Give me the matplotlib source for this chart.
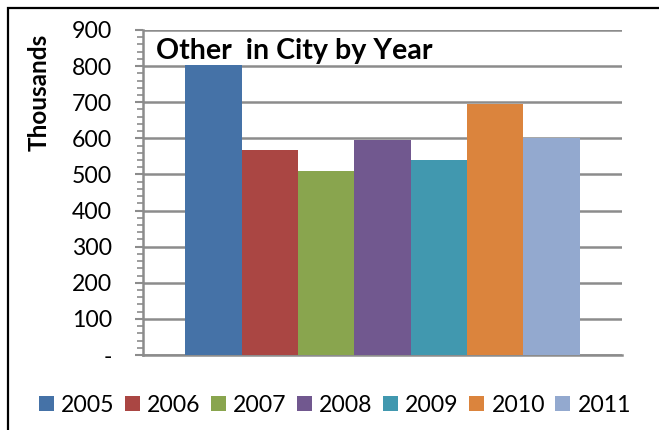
import matplotlib
matplotlib.use("Agg")
import matplotlib.pyplot as plt
from matplotlib.patches import Rectangle
from matplotlib.ticker import FuncFormatter, MultipleLocator
import numpy as np

plt.rcParams["font.family"] = ["Lato", "DejaVu Sans"]

# data (thousands)
years = ["2005", "2006", "2007", "2008", "2009", "2010", "2011"]
values = [803, 568, 510, 596, 541, 696, 600]
colors = ["#4572A7", "#AA4643", "#89A54E", "#71588F", "#4198AF", "#DB843D", "#93A9CF"]

W, H = 659, 430
fig = plt.figure(figsize=(W / 100, H / 100), dpi=100)
ax = fig.add_axes([143 / W, 1 - 355 / H, 479 / W, 325 / H])

x = np.arange(len(years))
bars = ax.bar(x, values, width=1.0, color=colors, label=years, zorder=3)

ax.set_xlim(-1.25, len(years) - 1 + 1.25)
ax.set_ylim(0, 900)
ax.yaxis.set_major_locator(MultipleLocator(100))
ax.yaxis.set_minor_locator(MultipleLocator(20))
ax.yaxis.set_major_formatter(FuncFormatter(lambda v, p: "-" if v == 0 else f"{v:.0f}"))
ax.set_xticks([])

grid_col = "#8C8C8C"
ax.grid(axis="y", color=grid_col, linewidth=1.8, zorder=0)
for side in ["top", "right"]:
    ax.spines[side].set_visible(False)
ax.spines["left"].set_color(grid_col)
ax.spines["left"].set_linewidth(1.8)
ax.spines["bottom"].set_color(grid_col)
ax.spines["bottom"].set_linewidth(1.8)

ax.tick_params(axis="y", which="major", length=5.5, width=1.5, color=grid_col,
               labelsize=16.6, pad=17)
ax.tick_params(axis="y", which="minor", length=4, width=1.2, color=grid_col)

# title sits inside the plot area
fig.text(156 / W, 1 - 59 / H, "Other  in City by Year", fontsize=20.6,
         fontweight="bold", ha="left", va="baseline")
fig.text(39 / W, 1 - 92 / H, "Thousands", fontsize=17.5, fontweight="bold",
         rotation=90, ha="center", va="center")

fig.legend(handles=list(bars), labels=years, loc="center",
           bbox_to_anchor=(335 / W, 1 - 405 / H), ncol=len(years), frameon=False,
           fontsize=16.6, handlelength=0.66, handleheight=0.66,
           handletextpad=0.3, columnspacing=0.45, borderpad=0, borderaxespad=0)

# outer chart border (only top/left fall inside the image)
fig.patches.append(Rectangle((8 / W, -0.1), 1.2, 1.1 - 8 / H + 0.001, fill=False,
                             edgecolor="black", linewidth=1.6,
                             transform=fig.transFigure, figure=fig))

fig.savefig("out.png", dpi=100)
